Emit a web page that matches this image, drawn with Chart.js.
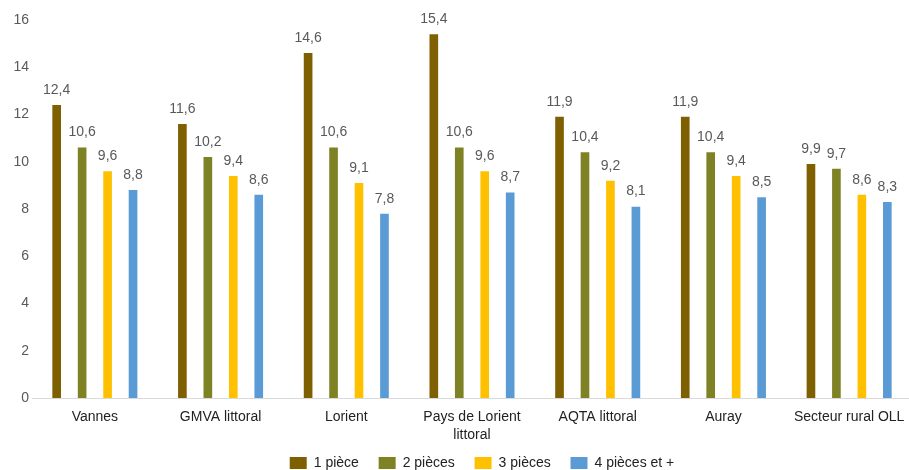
<!DOCTYPE html>
<html>
<head>
<meta charset="utf-8">
<script src="https://cdn.jsdelivr.net/npm/chart.js@4"></script>
<style>
  html, body { margin: 0; padding: 0; background: #fff; overflow: hidden; }
  #wrap { width: 954px; height: 480px; }
</style>
</head>
<body>
<div id="wrap"><canvas id="chart"></canvas></div>
<script>
const categories = ['Vannes', 'GMVA littoral', 'Lorient', ['Pays de Lorient', 'littoral'], 'AQTA littoral', 'Auray', 'Secteur rural OLL'];
const seriesNames = ['1 pièce', '2 pièces', '3 pièces', '4 pièces et +'];
const onePiece = [12.4, 11.6, 14.6, 15.4, 11.9, 11.9, 9.9];
const twoPieces = [10.6, 10.2, 10.6, 10.6, 10.4, 10.4, 9.7];
const threePieces = [9.6, 9.4, 9.1, 9.6, 9.2, 9.4, 8.6];
const fourPlus = [8.8, 8.6, 7.8, 8.7, 8.1, 8.5, 8.3];
const yTicks = [0, 2, 4, 6, 8, 10, 12, 14, 16];

const colors = ['#7F6000', '#7F8224', '#FFC000', '#5B9BD5'];
const textColor = '#595959';
const font = 'Liberation Sans, Arial, sans-serif';

// draws the value above each bar, French decimal comma
const valueLabels = {
    id: 'valueLabels',
    afterDatasetsDraw(chart) {
        const ctx = chart.ctx;
        ctx.save();
        ctx.fillStyle = textColor;
        ctx.font = '14px ' + font;
        ctx.textAlign = 'center';
        ctx.textBaseline = 'bottom';
        chart.data.datasets.forEach((ds, i) => {
            chart.getDatasetMeta(i).data.forEach((bar, j) => {
                ctx.fillText(ds.data[j].toFixed(1).replace('.', ','), bar.x, bar.y - 8);
            });
        });
        ctx.restore();
    }
};

// nudge the legend a little to the right, like the original
const legendShift = {
    id: 'legendShift',
    afterLayout(chart) {
        if (chart.legend) {
            chart.legend.left += 10;
            chart.legend.right += 10;
        }
    }
};

const seriesData = [onePiece, twoPieces, threePieces, fourPlus];

new Chart(document.getElementById('chart'), {
    type: 'bar',
    data: {
        labels: categories,
        datasets: seriesNames.map((name, i) => ({
            label: name,
            data: seriesData[i],
            backgroundColor: colors[i],
            barPercentage: 0.34,
            categoryPercentage: 0.81
        }))
    },
    options: {
        responsive: true,
        maintainAspectRatio: false,
        animation: false,
        layout: { padding: { top: 20, left: 0, right: 42, bottom: 0 } },
        plugins: {
            legend: {
                position: 'bottom',
                fullSize: false,
                labels: {
                    color: '#222',
                    font: { family: font, size: 14 },
                    boxWidth: 17,
                    boxHeight: 12,
                    padding: 12,
                    // a bit more room between items than the row padding gives
                    generateLabels: chart => {
                        const items = Chart.defaults.plugins.legend.labels.generateLabels(chart);
                        items.forEach((it, i) => { if (i < items.length - 1) it.text += '  '; });
                        return items;
                    }
                }
            },
            tooltip: { enabled: false }
        },
        scales: {
            x: {
                afterFit: axis => { axis.height = 46; },
                grid: { display: false, drawTicks: false },
                border: { color: '#d9d9d9' },
                ticks: { color: '#222', font: { family: font, size: 14, lineHeight: 1.3 }, maxRotation: 0, autoSkip: false, padding: 10 }
            },
            y: {
                min: 0,
                max: 16,
                afterBuildTicks: axis => { axis.ticks = yTicks.map(v => ({ value: v })); },
                afterFit: axis => { axis.width = 32; },
                grid: { display: false, drawTicks: false },
                border: { display: false },
                ticks: { color: textColor, font: { family: font, size: 14 }, padding: 3 }
            }
        }
    },
    plugins: [valueLabels, legendShift]
});
</script>
</body>
</html>
